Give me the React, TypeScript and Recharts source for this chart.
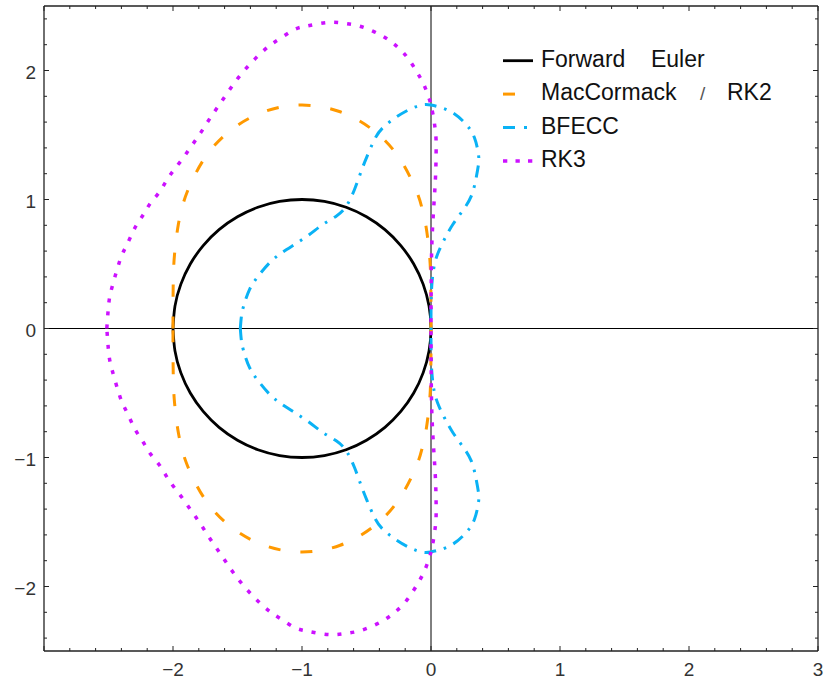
import React from 'react';
import { LineChart, Line, XAxis, YAxis, ReferenceLine } from 'recharts';

type Pt = [number, number];

// upper halves of the stability boundaries (left point -> top -> origin)
const forwardEuler: Pt[] = [
  [-2, 0], [-1.9848, 0.1736], [-1.9397, 0.342], [-1.866, 0.5], [-1.766, 0.6428], [-1.6428, 0.766],
  [-1.5, 0.866], [-1.342, 0.9397], [-1.1736, 0.9848], [-1, 1], [-0.8264, 0.9848], [-0.658, 0.9397],
  [-0.5, 0.866], [-0.3572, 0.766], [-0.234, 0.6428], [-0.134, 0.5], [-0.0603, 0.342], [-0.0152, 0.1736], [0, 0],
];

const macCormackRK2: Pt[] = [
  [-2, 0], [-1.9999, 0.1763], [-1.998, 0.3632], [-1.9885, 0.5707], [-1.959, 0.8047], [-1.9306, 0.9306],
  [-1.8894, 1.0598], [-1.7588, 1.3142], [-1.5578, 1.5326], [-1.2962, 1.68], [-1, 1.7321], [-0.7038, 1.68],
  [-0.4422, 1.5326], [-0.2412, 1.3142], [-0.1106, 1.0598], [-0.0694, 0.9306], [-0.041, 0.8047],
  [-0.0115, 0.5707], [-0.002, 0.3632], [-0.0001, 0.1763], [0, 0],
];

const bfecc: Pt[] = [
  [-1.478, 0], [-1.471, 0.083], [-1.453, 0.173], [-1.407, 0.302], [-1.343, 0.401], [-1.252, 0.509],
  [-1.157, 0.587], [-1.058, 0.651], [-0.942, 0.729], [-0.839, 0.806], [-0.735, 0.871], [-0.657, 0.948],
  [-0.593, 1.078], [-0.541, 1.219], [-0.495, 1.336], [-0.438, 1.465], [-0.374, 1.556], [-0.27, 1.638],
  [-0.167, 1.698], [-0.07, 1.733], [0, 1.732], [0.066, 1.716], [0.169, 1.672], [0.273, 1.581],
  [0.337, 1.478], [0.368, 1.349], [0.368, 1.271], [0.35, 1.168], [0.312, 1.026], [0.242, 0.909],
  [0.169, 0.806], [0.11, 0.703], [0.06, 0.599], [0.027, 0.496], [0.009, 0.367], [0.001, 0.212], [0, 0],
];

const rk3: Pt[] = [
  [-2.513, 0], [-2.497, 0.2], [-2.47, 0.33], [-2.415, 0.517], [-2.376, 0.612], [-2.332, 0.703],
  [-2.285, 0.798], [-2.229, 0.884], [-2.177, 0.969], [-2.11, 1.052], [-2.053, 1.142], [-1.996, 1.225],
  [-1.932, 1.308], [-1.872, 1.393], [-1.812, 1.478], [-1.756, 1.563], [-1.699, 1.651], [-1.64, 1.736],
  [-1.583, 1.819], [-1.523, 1.905], [-1.459, 1.987], [-1.389, 2.064], [-1.316, 2.137], [-1.239, 2.202],
  [-1.157, 2.256], [-1.058, 2.318], [-0.968, 2.344], [-0.864, 2.364], [-0.761, 2.374], [-0.657, 2.364],
  [-0.554, 2.344], [-0.451, 2.305], [-0.36, 2.258], [-0.283, 2.202], [-0.213, 2.137], [-0.149, 2.052],
  [-0.095, 1.964], [-0.05, 1.878], [-0.012, 1.775], [0, 1.732], [0.0075, 1.7], [0.025, 1.6], [0.037, 1.5],
  [0.04, 1.4], [0.036, 1.2], [0.025, 1.0], [0.013, 0.8], [0.005, 0.6], [0.002, 0.4], [0.0005, 0.2], [0, 0],
];

const seriesNames = ['Forward\u00a0\u00a0\u00a0\u00a0Euler', 'MacCormack', 'BFECC', 'RK3'];
const rk2Suffix = 'RK2';

const xTicks = [
  -3, -2.8, -2.6, -2.4, -2.2, -2, -1.8, -1.6, -1.4, -1.2, -1, -0.8, -0.6, -0.4, -0.2, 0,
  0.2, 0.4, 0.6, 0.8, 1, 1.2, 1.4, 1.6, 1.8, 2, 2.2, 2.4, 2.6, 2.8, 3,
];
const yTicks = [
  -2.4, -2.2, -2, -1.8, -1.6, -1.4, -1.2, -1, -0.8, -0.6, -0.4, -0.2, 0,
  0.2, 0.4, 0.6, 0.8, 1, 1.2, 1.4, 1.6, 1.8, 2, 2.2, 2.4,
];
const xLabels = [-2, -1, 0, 1, 2, 3];
const yLabels = [-2, -1, 0, 1, 2];

// the regions are symmetric about the real axis: close each trace with its mirror image
const closeCurve = (upper: Pt[]) =>
  [...upper, ...upper.slice(0, -1).reverse().map(([x, y]) => [x, -y] as Pt)].map(([x, y]) => ({ x, y }));

const FONT = '"Liberation Sans", Arial, sans-serif';
const AXIS = '#222';
const near = (a: number, b: number) => Math.abs(a - b) < 1e-6;
const isMajor = (v: number) => near(v, Math.round(v));
const hasLabel = (v: number, labels: number[]) => labels.some((l) => near(l, v));
const fmt = (v: number) => (v < 0 ? '\u2212' + Math.abs(v) : String(Math.round(v)));

const BottomTick = ({ x, y, payload }: any) => {
  const v = payload.value;
  return (
    <g>
      <line x1={x} x2={x} y1={y} y2={y - (isMajor(v) ? 5 : 3)} stroke={AXIS} />
      {hasLabel(v, xLabels) && (
        <text x={x} y={y + 25} textAnchor="middle" fontSize={19} fill="#333" fontFamily={FONT}>
          {fmt(v)}
        </text>
      )}
    </g>
  );
};

const TopTick = ({ x, y, payload }: any) => (
  <line x1={x} x2={x} y1={y} y2={y + (isMajor(payload.value) ? 5 : 3)} stroke={AXIS} />
);

const LeftTick = ({ x, y, payload }: any) => {
  const v = payload.value;
  return (
    <g>
      <line x1={x} x2={x + (isMajor(v) ? 5 : 3)} y1={y} y2={y} stroke={AXIS} />
      {hasLabel(v, yLabels) && (
        <text x={x - 8} y={y + 8} textAnchor="end" fontSize={19} fill="#333" fontFamily={FONT}>
          {fmt(v)}
        </text>
      )}
    </g>
  );
};

const RightTick = ({ x, y, payload }: any) => (
  <line x1={x} x2={x - (isMajor(payload.value) ? 5 : 3)} y1={y} y2={y} stroke={AXIS} />
);

const styles = [
  { color: '#000000', width: 2.8, dash: undefined, legendDash: undefined },
  { color: '#ff9900', width: 3, dash: '12 20', legendDash: '12 20' },
  { color: '#0ab2f5', width: 3, dash: '12 8 2.5 8', legendDash: '12 9 3 9' },
  { color: '#cc11ff', width: 3.5, dash: '4 9', legendDash: '4.3 8.2' },
];

const curves = [forwardEuler, macCormackRK2, bfecc, rk3].map(closeCurve);

const ChartLegend = () => (
  <svg width={827} height={688} style={{ position: 'absolute', left: 0, top: 0, pointerEvents: 'none' }}>
    {seriesNames.map((name, i) => {
      const base = 66.7 + i * 33.4;
      const s = styles[i];
      return (
        <g key={name}>
          <line x1={503} x2={533} y1={base - 6} y2={base - 6} stroke={s.color} strokeWidth={s.width}
            strokeDasharray={s.legendDash} />
          <text x={541} y={base} fontSize={23} fill="#111" fontFamily={FONT}>{name}</text>
          {i === 1 && (
            <>
              <text x={700} y={base} fontSize={19} fill="#555" fontFamily={FONT}>/</text>
              <text x={727} y={base} fontSize={23} fill="#111" fontFamily={FONT}>{rk2Suffix}</text>
            </>
          )}
        </g>
      );
    })}
  </svg>
);

export default function App() {
  return (
    <div style={{ position: 'absolute', left: 0, top: 0, width: 827, height: 688, background: '#fff' }}>
      <LineChart width={827} height={688} margin={{ top: 5, right: 8, bottom: 7, left: 4 }}>
        <XAxis dataKey="x" type="number" domain={[-3, 3]} ticks={xTicks} interval={0} allowDataOverflow
          height={30} tickSize={0} tickMargin={0} tickLine={false} tick={<BottomTick />}
          axisLine={{ stroke: AXIS, strokeWidth: 1.3 }} />
        <XAxis xAxisId="top" orientation="top" dataKey="x" type="number" domain={[-3, 3]} ticks={xTicks}
          interval={0} allowDataOverflow height={1} tickSize={0} tickMargin={0} tickLine={false}
          tick={<TopTick />} axisLine={{ stroke: AXIS, strokeWidth: 1.3 }} />
        <YAxis type="number" domain={[-2.5, 2.5]} ticks={yTicks} interval={0} allowDataOverflow width={40}
          tickSize={0} tickMargin={0} tickLine={false} tick={<LeftTick />}
          axisLine={{ stroke: AXIS, strokeWidth: 1.3 }} />
        <YAxis yAxisId="right" orientation="right" type="number" domain={[-2.5, 2.5]} ticks={yTicks}
          interval={0} allowDataOverflow width={1} tickSize={0} tickMargin={0} tickLine={false}
          tick={<RightTick />} axisLine={{ stroke: AXIS, strokeWidth: 1.3 }} />
        <ReferenceLine x={0} stroke="#000" strokeWidth={1} />
        <ReferenceLine y={0} stroke="#000" strokeWidth={1} />
        {curves.map((data, i) => (
          <Line key={seriesNames[i]} data={data} dataKey="y" type="natural" dot={false} activeDot={false}
            stroke={styles[i].color} strokeWidth={styles[i].width} strokeDasharray={styles[i].dash}
            isAnimationActive={false} />
        ))}
      </LineChart>
      <ChartLegend />
    </div>
  );
}
